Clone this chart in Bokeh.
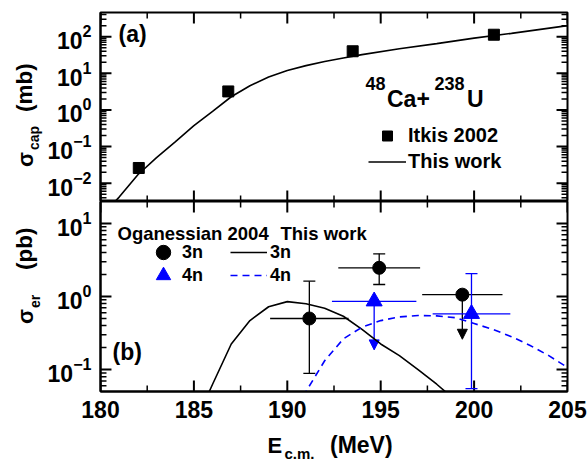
from bokeh.plotting import figure
from bokeh.layouts import column, row
from bokeh.models import (Range1d, FixedTicker, ColumnDataSource, Whisker, TeeHead, Arrow,
                          NormalHead, Label, Legend, LegendItem, Div)
from bokeh.embed import file_html
from bokeh.resources import INLINE

# ---------------- data ----------------
# (a) capture cross section (mb)
E_itkis = [182.05, 186.84, 193.5, 201.06]
sig_itkis = [0.026, 3.2, 40.0, 113.0]

E_cap = [180.5, 181, 182, 183, 184, 185, 186, 187, 188, 189, 190, 191, 192, 193, 194,
         196, 198, 200, 202, 205]
sig_cap = [0.00224, 0.00417, 0.0170, 0.0501, 0.135, 0.372, 0.912, 2.29, 4.57, 7.94, 12.0,
           16.2, 20.9, 26.3, 32.4, 46.8, 64.6, 91.2, 123.0, 200.0]

# (b) evaporation residue cross section (pb)
exp3n_E = [191.18, 194.92, 199.37]
exp3n_sig = [0.50, 2.47, 1.06]
exp3n_dE = [2.10, 2.19, 2.15]
exp3n_lo = [0.089, 1.46, None]
exp3n_hi = [1.62, 3.84, None]
exp3n_limit = [None, None, 0.26]

exp4n_E = [194.65, 199.86]
exp4n_sig = [0.86, 0.58]
exp4n_dE = [2.26, 2.08]
exp4n_lo = [None, 0.055]
exp4n_hi = [None, 2.05]
exp4n_limit = [0.186, None]

E_th3n = [185.5, 186, 187, 188, 189, 190, 191, 192, 193, 194, 195, 196, 197, 198, 199]
sig_th3n = [0.033, 0.063, 0.224, 0.468, 0.724, 0.851, 0.794, 0.692, 0.537, 0.355, 0.224,
            0.155, 0.100, 0.063, 0.038]

E_th4n = [190.5, 191, 192, 193, 194, 195, 196, 197, 198, 199, 200, 201, 202, 203, 204, 205]
sig_th4n = [0.031, 0.050, 0.132, 0.263, 0.380, 0.468, 0.525, 0.550, 0.543, 0.513, 0.427,
            0.355, 0.282, 0.214, 0.155, 0.107]

x_range_lim = [180, 205]
x_ticks = [180, 185, 190, 195, 200, 205]
y_ticks_cap = [0.01, 0.1, 1, 10, 100]
y_ticks_er = [0.1, 1, 10]

# ---------------- style ----------------
FONT = "Liberation Sans"
BLUE = "#0000ff"
OX = 44                      # width of the column holding the y titles
FRAME_W = 587 - 99 - 20      # frame width in px
x_minor = [a + 2.5 for a in x_ticks[:-1]]
minor_log = [m * 10.0 ** e for e in range(-4, 4) for m in range(2, 10)]


def style(ax):
    ax.major_tick_in = 0
    ax.major_tick_out = 0
    ax.minor_tick_in = 0
    ax.minor_tick_out = 0
    ax.axis_line_width = 2
    ax.axis_line_color = "black"
    ax.major_label_text_font = FONT
    ax.major_label_text_font_style = "bold"
    ax.major_label_text_color = "black"
    ax.major_label_text_font_size = "23px"
    ax.major_label_standoff = 9


def frame_ticks(p, ylo, yhi, frame_h, y_major):
    """inward ticks on all four frame edges, drawn as head-less whiskers"""
    from math import log10
    xlo, xhi = x_range_lim
    px_x = FRAME_W / (xhi - xlo)
    px_dec = frame_h / log10(yhi / ylo)
    y_minor = [v for v in minor_log if ylo < v < yhi]
    for xs, L, w in ((x_ticks, 11, 2), (x_minor, 6, 1.5)):
        f = 10 ** (L / px_dec)
        src = ColumnDataSource(dict(b=xs + xs, lo=[ylo] * len(xs) + [yhi / f] * len(xs),
                                    hi=[ylo * f] * len(xs) + [yhi] * len(xs)))
        p.add_layout(Whisker(source=src, base="b", lower="lo", upper="hi",
                             dimension="height", line_color="black", line_width=w,
                             lower_head=None, upper_head=None))
    for ys, L, w in ((y_major, 11, 2), (y_minor, 6, 1.5)):
        d = L / px_x
        src = ColumnDataSource(dict(b=ys + ys, lo=[xlo] * len(ys) + [xhi - d] * len(ys),
                                    hi=[xlo + d] * len(ys) + [xhi] * len(ys)))
        p.add_layout(Whisker(source=src, base="b", lower="lo", upper="hi",
                             dimension="width", line_color="black", line_width=w,
                             lower_head=None, upper_head=None))


def lab(p, text, x, y, size, baseline="alphabetic"):
    p.add_layout(Label(x=x - OX, y=y, x_units="canvas", y_units="canvas", text=text,
                       text_align="left", text_baseline=baseline, text_font=FONT,
                       text_font_style="bold", text_font_size=size, text_color="black"))


def legend(items, loc, gw, gh, standoff, size):
    return Legend(items=items, location=loc, glyph_width=gw, glyph_height=gh,
                  label_standoff=standoff, spacing=1, padding=0, margin=0,
                  border_line_color=None, background_fill_alpha=0,
                  label_text_font=FONT, label_text_font_style="bold",
                  label_text_font_size=size, label_text_color="black")


def setup(p):
    p.grid.visible = False
    p.outline_line_color = "black"
    p.outline_line_width = 2
    p.background_fill_color = None
    p.border_fill_color = None


xr = Range1d(*x_range_lim)

# ---------------- panel (a) ----------------
ylo1, yhi1 = 10 ** -2.5, 10 ** 2.66
p1 = figure(width=587 - OX, height=201, x_range=xr, y_range=Range1d(ylo1, yhi1),
            y_axis_type="log", x_axis_location=None, output_backend="svg",
            toolbar_location=None, min_border_left=99 - OX, min_border_right=20,
            min_border_top=12, min_border_bottom=0)
setup(p1)
p1.yaxis[0].ticker = FixedTicker(ticks=y_ticks_cap)
style(p1.yaxis[0])
frame_ticks(p1, ylo1, yhi1, 189, y_ticks_cap)

ln_cap = p1.line(E_cap, sig_cap, line_color="black", line_width=1.6)
sq = p1.scatter(E_itkis, sig_itkis, marker="square", size=11, fill_color="black",
                line_color="black")

p1.add_layout(legend([LegendItem(label="Itkis 2002", renderers=[sq]),
                      LegendItem(label="This work", renderers=[ln_cap])],
                     (268, 27), 38, 25, 2, "20px"))

lab(p1, "(a)", 118, 33.5, "23px", baseline="middle")
lab(p1, "48", 365, 83, "18px")
lab(p1, "Ca+", 386.5, 98.3, "23px")
lab(p1, "238", 434, 83, "18px")
lab(p1, "U", 466.5, 98.3, "23px")

# ---------------- panel (b) ----------------
ylo2, yhi2 = 10 ** -1.3, 10 ** 1.3
p2 = figure(width=587 - OX, height=230, x_range=xr, y_range=Range1d(ylo2, yhi2),
            y_axis_type="log", output_backend="svg", toolbar_location=None,
            min_border_left=99 - OX, min_border_right=20, min_border_top=0,
            min_border_bottom=40)
setup(p2)
p2.xaxis[0].ticker = FixedTicker(ticks=x_ticks)
style(p2.xaxis[0])
p2.yaxis[0].ticker = FixedTicker(ticks=y_ticks_er)
style(p2.yaxis[0])
frame_ticks(p2, ylo2, yhi2, 190, y_ticks_er)

th3 = p2.line(E_th3n, sig_th3n, line_color="black", line_width=1.6)
th4 = p2.line(E_th4n, sig_th4n, line_color=BLUE, line_width=1.6, line_dash="7 5")


def add_errors(E, sig, dE, lo, hi, limit, color):
    hsrc = ColumnDataSource(dict(y=sig, lo=[e - d for e, d in zip(E, dE)],
                                 hi=[e + d for e, d in zip(E, dE)]))
    p2.add_layout(Whisker(source=hsrc, base="y", lower="lo", upper="hi", dimension="width",
                          line_color=color, line_width=1.3, lower_head=None, upper_head=None,
                          level="underlay"))
    idx = [i for i in range(len(E)) if lo[i] is not None]
    if idx:
        vsrc = ColumnDataSource(dict(x=[E[i] for i in idx], lo=[lo[i] for i in idx],
                                     hi=[hi[i] for i in idx]))
        p2.add_layout(Whisker(source=vsrc, base="x", lower="lo", upper="hi",
                              dimension="height", line_color=color, line_width=1.3,
                              lower_head=TeeHead(size=12, line_color=color, line_width=1.3),
                              upper_head=TeeHead(size=12, line_color=color, line_width=1.3),
                              level="underlay"))
    idx = [i for i in range(len(E)) if limit[i] is not None]
    if idx:
        asrc = ColumnDataSource(dict(x=[E[i] for i in idx], y0=[sig[i] for i in idx],
                                     y1=[limit[i] for i in idx]))
        p2.add_layout(Arrow(source=asrc, x_start="x", y_start="y0", x_end="x", y_end="y1",
                            line_color=color, line_width=1.3, level="underlay",
                            end=NormalHead(size=10, fill_color=color, line_color=color)))


add_errors(exp3n_E, exp3n_sig, exp3n_dE, exp3n_lo, exp3n_hi, exp3n_limit, "black")
add_errors(exp4n_E, exp4n_sig, exp4n_dE, exp4n_lo, exp4n_hi, exp4n_limit, BLUE)

c3 = p2.scatter(exp3n_E, exp3n_sig, marker="circle", size=13, fill_color="black",
                line_color="black")
t4 = p2.scatter(exp4n_E, exp4n_sig, marker="triangle", size=16, fill_color=BLUE,
                line_color=BLUE)

p2.add_layout(legend([LegendItem(label="3n", renderers=[c3])], (45, 121), 36, 36, 1, "18px"))
p2.add_layout(legend([LegendItem(label="4n", renderers=[t4])], (45, 98), 36, 36, 1, "18px"))
p2.add_layout(legend([LegendItem(label="3n", renderers=[th3])], (130, 121), 37, 36, 3, "18px"))
p2.add_layout(legend([LegendItem(label="4n", renderers=[th4])], (130, 98), 37, 36, 3, "18px"))


def lab2(text, x, y, size, baseline="alphabetic"):
    lab(p2, text, x, y - 201, size, baseline)


lab2("Oganessian 2004", 117, 233, "18.5px")
lab2("This work", 280, 233, "18.5px")
lab2("(b)", 112, 351.7, "23px", baseline="middle")


# ---------------- axis titles (HTML text with sub-scripts) ----------------
def span(text, x, y, fs, rotate=False):
    b = 0.8465 * fs
    if rotate:
        left, top = x - b, y
        tr = "transform:rotate(-90deg);transform-origin:0 0;"
    else:
        left, top = x, y - b
        tr = ""
    return ('<div style="position:absolute;left:%.1fpx;top:%.1fpx;font-size:%.1fpx;'
            'line-height:1;white-space:nowrap;%s">%s</div>' % (left, top, fs, tr, text))


box = ('<div style="position:relative;width:%dpx;height:%dpx;font-family:\'Liberation Sans\';'
       'font-weight:bold;color:#000;">%s</div>')

left_html = box % (OX, 431, "".join([
    span("σ", 34, 167, 22, True), span("cap", 39, 150, 14, True),
    span("(mb)", 33, 111.7, 22.5, True),
    span("σ", 34, 323.5, 22, True), span("er", 40, 308.3, 14, True),
    span("(pb)", 33, 270, 22.5, True)]))
bottom_html = box % (587, 35, "".join([
    span("E", 267.5, 453.3 - 431, 22), span("c.m.", 284.5, 458.3 - 431, 15),
    span("(MeV)", 330, 453.3 - 431, 23)]))

left_div = Div(text=left_html, width=OX, height=431, margin=0)
bottom_div = Div(text=bottom_html, width=587, height=35, margin=0)

layout = column(row(left_div, column(p1, p2, spacing=0), spacing=0), bottom_div, spacing=0)
open("out.html", "w").write(file_html(layout, INLINE))
